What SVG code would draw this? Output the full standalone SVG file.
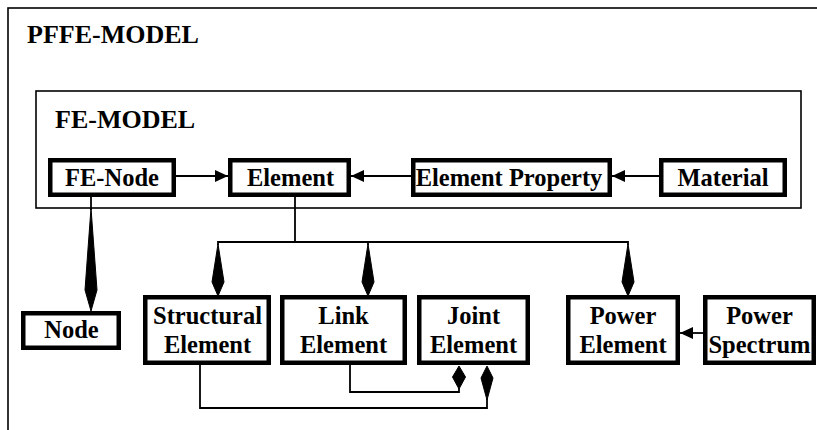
<svg xmlns="http://www.w3.org/2000/svg" width="817" height="430" viewBox="0 0 817 430">
<style>
  .frame { fill: none; stroke: #000; stroke-width: 1.6; }
  .box { fill: #fff; stroke: #000; stroke-width: 4.5; }
  .title { font-family: "Liberation Serif", "Times New Roman", serif; font-weight: bold; font-size: 26px; fill: #000; }
  .lbl { font-family: "Liberation Serif", "Times New Roman", serif; font-weight: bold; font-size: 24.5px; fill: #000; text-anchor: middle; }
  .con { fill: none; stroke: #000; stroke-width: 1.8; }
  .dia { fill: #000; stroke: #000; stroke-width: 1; stroke-linejoin: round; }
</style>
<defs>
  <marker id="arr" markerUnits="userSpaceOnUse" markerWidth="14" markerHeight="14" viewBox="0 0 14 14" refX="13" refY="7" orient="auto">
    <path d="M0,1 L13,7 L0,13 Z" fill="#000"/>
  </marker>
</defs>
<rect width="817" height="430" fill="#fff"/>
<g id="pffe-model">
  <rect class="frame" x="8" y="8" width="900" height="500"/>
  <text class="title" x="27" y="43">PFFE-MODEL</text>
</g>
<g id="fe-model">
  <rect class="frame" x="36" y="91" width="765" height="117"/>
  <text class="title" x="55" y="128">FE-MODEL</text>
</g>
<g id="connectors">
  <line class="con" x1="176" y1="176" x2="228" y2="176" marker-end="url(#arr)"/>
  <line class="con" x1="411" y1="176" x2="351" y2="176" marker-end="url(#arr)"/>
  <line class="con" x1="659" y1="176" x2="612" y2="176" marker-end="url(#arr)"/>
  <line class="con" x1="703" y1="333" x2="680" y2="333" marker-end="url(#arr)"/>
  <line class="con" x1="91" y1="197" x2="91" y2="210"/>
  <polygon class="dia" points="91,208 97,290 91,311 85,290"/>
  <polyline class="con" points="295,197 295,242"/>
  <polyline class="con" points="218,245 218,242 628,242 628,245"/>
  <line class="con" x1="368" y1="242" x2="368" y2="245"/>
  <polygon class="dia" points="218,244 224,282 218,296 212,282"/>
  <polygon class="dia" points="368,244 374,282 368,296 362,282"/>
  <polygon class="dia" points="628,244 634,282 628,296 622,282"/>
  <polyline class="con" points="350,365 350,392 459,392 459,388"/>
  <polygon class="dia" points="459,366 465.5,377 459,389 452.5,377"/>
  <polyline class="con" points="200,365 200,408 487,408 487,398"/>
  <polygon class="dia" points="487,366 493,378 487,400 481,378"/>
</g>
<g id="fe-node">
  <rect class="box" x="50.25" y="160.25" width="123.5" height="34.5"/>
  <text class="lbl" x="112" y="186">FE-Node</text>
</g>
<g id="element">
  <rect class="box" x="230.25" y="160.25" width="118.5" height="34.5"/>
  <text class="lbl" x="290.5" y="186">Element</text>
</g>
<g id="element-property">
  <rect class="box" x="413.25" y="160.25" width="196.5" height="34.5"/>
  <text class="lbl" x="509" y="186">Element Property</text>
</g>
<g id="material">
  <rect class="box" x="661.25" y="160.25" width="123.5" height="34.5"/>
  <text class="lbl" x="723" y="186">Material</text>
</g>
<g id="node">
  <rect class="box" x="23.25" y="313.25" width="95.5" height="34.5"/>
  <text class="lbl" x="71.5" y="338">Node</text>
</g>
<g id="structural-element">
  <rect class="box" x="145.25" y="297.25" width="123.5" height="65.5"/>
  <text class="lbl" x="207.5" y="324">Structural</text>
  <text class="lbl" x="207.5" y="353">Element</text>
</g>
<g id="link-element">
  <rect class="box" x="282.25" y="297.25" width="122.5" height="65.5"/>
  <text class="lbl" x="343.5" y="324">Link</text>
  <text class="lbl" x="343.5" y="353">Element</text>
</g>
<g id="joint-element">
  <rect class="box" x="419.25" y="297.25" width="108.5" height="65.5"/>
  <text class="lbl" x="473.5" y="324">Joint</text>
  <text class="lbl" x="473.5" y="353">Element</text>
</g>
<g id="power-element">
  <rect class="box" x="568.25" y="297.25" width="109.5" height="65.5"/>
  <text class="lbl" x="623" y="324">Power</text>
  <text class="lbl" x="623" y="353">Element</text>
</g>
<g id="power-spectrum">
  <rect class="box" x="705.25" y="297.25" width="108.5" height="65.5"/>
  <text class="lbl" x="759.5" y="324">Power</text>
  <text class="lbl" x="759.5" y="353">Spectrum</text>
</g>
</svg>
